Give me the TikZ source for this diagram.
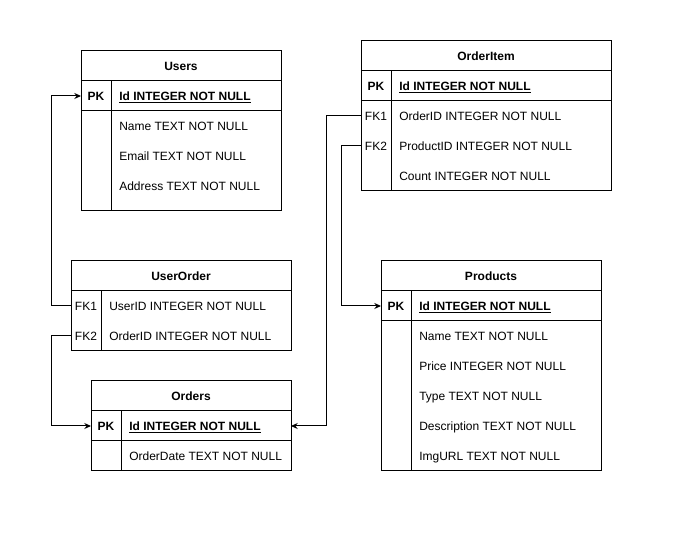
\documentclass[tikz,border=0pt]{standalone}
\usepackage{fontspec}
\setmainfont{Liberation Sans}
\usetikzlibrary{arrows.meta}
\begin{document}
\begin{tikzpicture}[x=0.75pt,y=-0.75pt,
  tbl/.style={draw, line width=0.75pt, anchor=north west, inner sep=0pt, outer sep=0pt},
  sepline/.style={line width=0.75pt},
  txt/.style={inner sep=0pt, text height=8.4pt, text depth=1.6pt},
  ttl/.style={txt, font=\bfseries\fontsize{9}{10}\selectfont},
  keyb/.style={txt, font=\bfseries\fontsize{9}{10}\selectfont},
  keyn/.style={txt, font=\fontsize{9}{10}\selectfont},
  fld/.style={txt, font=\fontsize{9}{10}\selectfont, anchor=west},
  pkf/.style={txt, font=\bfseries\fontsize{9}{10}\selectfont, anchor=west},
  conn/.style={line width=0.75pt, -{Stealth[length=5pt,width=4.5pt]}}
]
\useasboundingbox[fill=white] (0,0) rectangle (690,534);

% ---------- Users ----------
\node[tbl, minimum width=150pt, minimum height=120pt] (users) at (81,51) {};
\draw[sepline] (81,81) -- (281,81) (81,111) -- (281,111) (111,81) -- (111,211);
\node[ttl] (usersT) at (181,66) {Users};
\node[keyb] (uPK) at (96,96) {PK};
\node[pkf] (uId) at (119,96) {\underline{Id INTEGER NOT NULL}};
\node[fld] (uName) at (119,126) {Name TEXT NOT NULL};
\node[fld] (uEmail) at (119,156) {Email TEXT NOT NULL};
\node[fld] (uAddr) at (119,186) {Address TEXT NOT NULL};

% ---------- OrderItem ----------
\node[tbl, minimum width=187.5pt, minimum height=112.5pt] (oi) at (361,41) {};
\draw[sepline] (361,71) -- (611,71) (361,101) -- (611,101) (391,71) -- (391,191);
\node[ttl] (oiT) at (486,56) {OrderItem};
\node[keyb] (oiPK) at (376,86) {PK};
\node[pkf] (oiId) at (399,86) {\underline{Id INTEGER NOT NULL}};
\node[keyn] (oiFK1) at (376,116) {FK1};
\node[fld] (oiOrd) at (399,116) {OrderID INTEGER NOT NULL};
\node[keyn] (oiFK2) at (376,146) {FK2};
\node[fld] (oiProd) at (399,146) {ProductID INTEGER NOT NULL};
\node[fld] (oiCnt) at (399,176) {Count INTEGER NOT NULL};

% ---------- UserOrder ----------
\node[tbl, minimum width=165pt, minimum height=67.5pt] (uo) at (71,261) {};
\draw[sepline] (71,291) -- (291,291) (101,291) -- (101,351);
\node[ttl] (uoT) at (181,276) {UserOrder};
\node[keyn] (uoFK1) at (86,306) {FK1};
\node[fld] (uoUser) at (109,306) {UserID INTEGER NOT NULL};
\node[keyn] (uoFK2) at (86,336) {FK2};
\node[fld] (uoOrd) at (109,336) {OrderID INTEGER NOT NULL};

% ---------- Orders ----------
\node[tbl, minimum width=150pt, minimum height=67.5pt] (ord) at (91,381) {};
\draw[sepline] (91,411) -- (291,411) (91,441) -- (291,441) (121,411) -- (121,471);
\node[ttl] (ordT) at (191,396) {Orders};
\node[keyb] (ordPK) at (106,426) {PK};
\node[pkf] (ordId) at (129,426) {\underline{Id INTEGER NOT NULL}};
\node[fld] (ordDate) at (129,456) {OrderDate TEXT NOT NULL};

% ---------- Products ----------
\node[tbl, minimum width=165pt, minimum height=157.5pt] (prod) at (381,261) {};
\draw[sepline] (381,291) -- (601,291) (381,321) -- (601,321) (411,291) -- (411,471);
\node[ttl] (prodT) at (491,276) {Products};
\node[keyb] (pPK) at (396,306) {PK};
\node[pkf] (pId) at (419,306) {\underline{Id INTEGER NOT NULL}};
\node[fld] (pName) at (419,336) {Name TEXT NOT NULL};
\node[fld] (pPrice) at (419,366) {Price INTEGER NOT NULL};
\node[fld] (pType) at (419,396) {Type TEXT NOT NULL};
\node[fld] (pDesc) at (419,426) {Description TEXT NOT NULL};
\node[fld] (pImg) at (419,456) {ImgURL TEXT NOT NULL};

% ---------- Connectors ----------
\draw[conn] (uo.west |- uoFK1) -- ++(-20,0) |- (users.west |- uPK);
\draw[conn] (uo.west |- uoFK2) -- ++(-20,0) |- (ord.west |- ordPK);
\draw[conn] (oi.west |- oiFK1) -- ++(-35,0) |- (ord.east |- ordPK);
\draw[conn] (oi.west |- oiFK2) -- ++(-20,0) |- (prod.west |- pPK);
\end{tikzpicture}
\end{document}
